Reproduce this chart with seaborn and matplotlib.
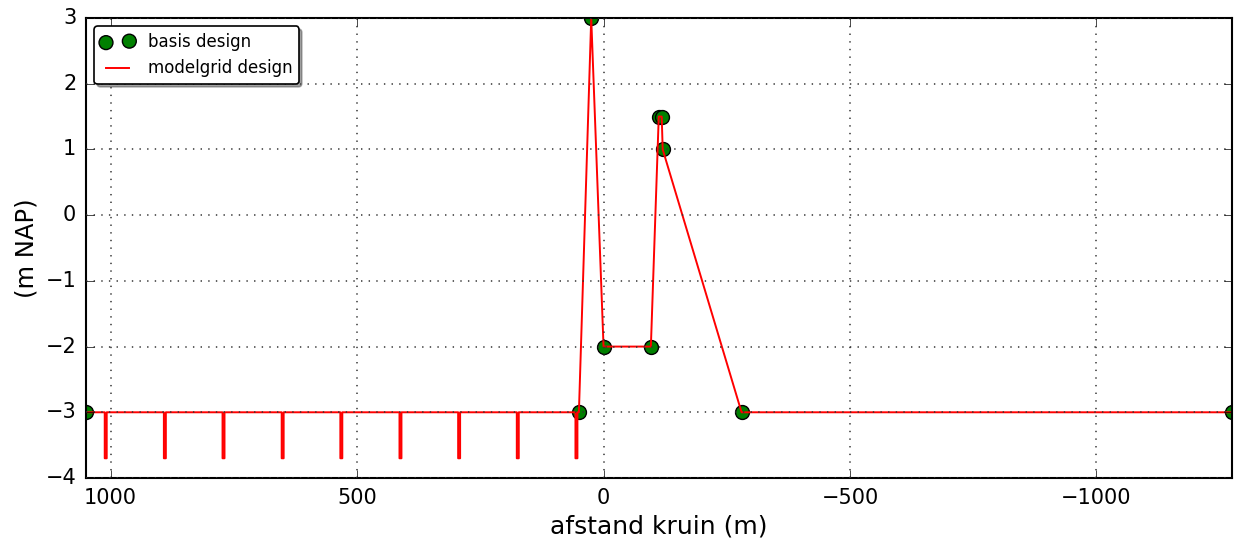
import matplotlib
matplotlib.use("Agg")
import matplotlib.pyplot as plt
import seaborn as sns
import numpy as np

# basis design points
basis_x = [1050, 50, 25, 0, -96, -112, -118, -120, -280, -1275]
basis_y = [-3, -3, 3, -2, -2, 1.5, 1.5, 1, -3, -3]

# modelgrid design profile (with narrow dips)
grid_x = [1050,
          1012, 1012, 1008, 1008,
          892, 892, 888, 888,
          773, 773, 769, 769,
          653, 653, 649, 649,
          534, 534, 530, 530,
          414, 414, 410, 410,
          295, 295, 291, 291,
          176, 176, 172, 172,
          57, 57, 53, 53,
          50, 25, 0, -96, -112, -118, -120, -280, -1275]
grid_y = [-3,
          -3, -3.7, -3.7, -3,
          -3, -3.7, -3.7, -3,
          -3, -3.7, -3.7, -3,
          -3, -3.7, -3.7, -3,
          -3, -3.7, -3.7, -3,
          -3, -3.7, -3.7, -3,
          -3, -3.7, -3.7, -3,
          -3, -3.7, -3.7, -3,
          -3, -3.7, -3.7, -3,
          -3, 3, -2, -2, 1.5, 1.5, 1, -3, -3]

x_ticks = [1000, 500, 0, -500, -1000]
y_ticks = [-4, -3, -2, -1, 0, 1, 2, 3]

plt.style.use("classic")
plt.rcParams["figure.facecolor"] = "white"
plt.rcParams["savefig.facecolor"] = "white"
plt.rcParams["font.family"] = ["DejaVu Sans"]

fig, ax = plt.subplots(figsize=(12.34, 5.42), dpi=100)
fig.subplots_adjust(left=86/1234, right=1232/1234, top=1-18/542, bottom=1-478/542)

sns.scatterplot(x=basis_x, y=basis_y, ax=ax, s=100, color="green",
                edgecolor="black", linewidth=1.0, label="basis design", zorder=1)
sns.lineplot(x=grid_x, y=grid_y, ax=ax, sort=False, estimator=None,
             color="red", linewidth=1.4, label="modelgrid design", zorder=2)

ax.set_xlim(1050, -1275)
ax.set_ylim(-4, 3)
ax.set_xticks(x_ticks)
ax.set_yticks(y_ticks)
ax.grid(True, color="#333333", linestyle=(0, (1, 4.5)), linewidth=1.1)
ax.tick_params(axis="both", which="major", labelsize=15, direction="in",
               length=6, top=True, right=True, pad=7)
for sp in ax.spines.values():
    sp.set_linewidth(1.5)
ax.set_xlabel("afstand kruin (m)", fontsize=18)
ax.set_ylabel("(m NAP)", fontsize=17.5)

leg = ax.legend(loc="upper left", numpoints=2, scatterpoints=2, shadow=True,
                fancybox=True, fontsize=12, borderaxespad=0.5)
leg.get_frame().set_linewidth(1.2)

fig.savefig("out.png", dpi=100)
